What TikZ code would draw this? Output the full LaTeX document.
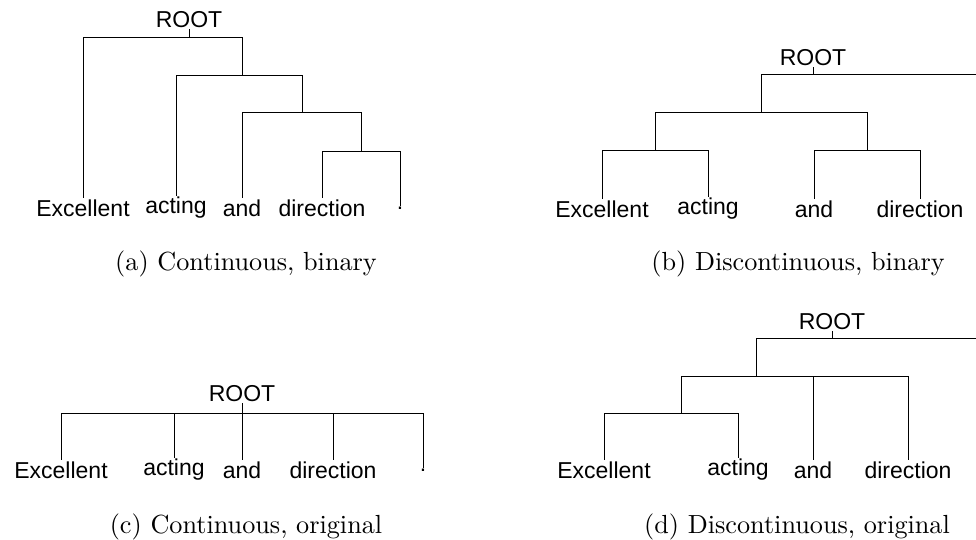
\documentclass[tikz,border=0pt]{standalone}
\usepackage{graphicx}
\usepackage{fontspec}
\usepackage{tikz}
\usetikzlibrary{positioning}
\newfontfamily\wordfont{Liberation Sans}
\newcommand{\subcap}[1]{\scalebox{2.62}{#1}}

\begin{document}
\begin{tikzpicture}[x=1pt,y=-1pt,
              word/.style={font=\wordfont\fontsize{23}{27}\selectfont, inner sep=1pt},
              capt/.style={inner sep=0pt},
              branch/.style={line width=1pt, black},
             ]
\useasboundingbox (0,0) rectangle (976,540);

% (a) continuous, binary
\node[word] (roota) at (189,20) {ROOT};
\coordinate (ra) at (189,38);
\coordinate (n1a) at (242,76);
\coordinate (n2a) at (302,113);
\coordinate (n3a) at (361,152);
\node[word] (exa) at (83,208) {Excellent};
\node[word] (aca) at (176,208) {acting};
\node[word] (ana) at (242,208) {and};
\node[word] (dia) at (322,208) {direction};
\node[word] (pta) at (400,208) {.};
\draw[branch] (roota.south) -- (ra);
\draw[branch] (ra) -| (exa.north);
\draw[branch] (ra) -| (n1a);
\draw[branch] (n1a) -| (aca.north);
\draw[branch] (n1a) -| (n2a);
\draw[branch] (n2a) -| (ana.north);
\draw[branch] (n2a) -| (n3a);
\draw[branch] (n3a) -| (dia.north);
\draw[branch] (n3a) -| (pta.north);
\node[capt] (capa) at (246,264) {\subcap{(a) Continuous, binary}};

% (b) discontinuous, binary
\node[word] (rootb) at (813,58) {ROOT};
\coordinate (rb) at (813,75);
\coordinate (endb) at (976,75);
\coordinate (n1b) at (761,113);
\coordinate (n2b) at (655,151);
\coordinate (n3b) at (867,151);
\node[word] (exb) at (602,209) {Excellent};
\node[word] (acb) at (708,209) {acting};
\node[word] (anb) at (814,209) {and};
\node[word] (dib) at (920,209) {direction};
\draw[branch] (rootb.south) -- (rb);
\draw[branch] (rb) -| (n1b);
\draw[branch] (rb) -- (endb);
\draw[branch] (n1b) -| (n2b);
\draw[branch] (n1b) -| (n3b);
\draw[branch] (n2b) -| (exb.north);
\draw[branch] (n2b) -| (acb.north);
\draw[branch] (n3b) -| (anb.north);
\draw[branch] (n3b) -| (dib.north);
\node[capt] (capb) at (798,264) {\subcap{(b) Discontinuous, binary}};

% (c) continuous, original
\node[word] (rootc) at (242,394) {ROOT};
\coordinate (rc) at (242,413);
\node[word] (exc) at (61,470) {Excellent};
\node[word] (acc) at (174,470) {acting};
\node[word] (anc) at (242,470) {and};
\node[word] (dic) at (333,470) {direction};
\node[word] (ptc) at (423,470) {.};
\draw[branch] (rootc.south) -- (rc);
\foreach \leaf in {exc,acc,anc,dic,ptc}
  \draw[branch] (rc) -| (\leaf.north);
\node[capt] (capc) at (246,527) {\subcap{(c) Continuous, original}};

% (d) discontinuous, original
\node[word] (rootd) at (832,322) {ROOT};
\coordinate (rd) at (832,338);
\coordinate (endd) at (976,338);
\coordinate (n1d) at (756,376);
\coordinate (n2d) at (681,413);
\node[word] (exd) at (604,470) {Excellent};
\node[word] (acd) at (738,470) {acting};
\node[word] (and) at (813,470) {and};
\node[word] (did) at (908,470) {direction};
\draw[branch] (rootd.south) -- (rd);
\draw[branch] (rd) -| (n1d);
\draw[branch] (rd) -- (endd);
\draw[branch] (n1d) -| (n2d);
\draw[branch] (n1d) -| (and.north);
\draw[branch] (n1d) -| (did.north);
\draw[branch] (n2d) -| (exd.north);
\draw[branch] (n2d) -| (acd.north);
\node[capt] (capd) at (797,527) {\subcap{(d) Discontinuous, original}};
\end{tikzpicture}
\end{document}
